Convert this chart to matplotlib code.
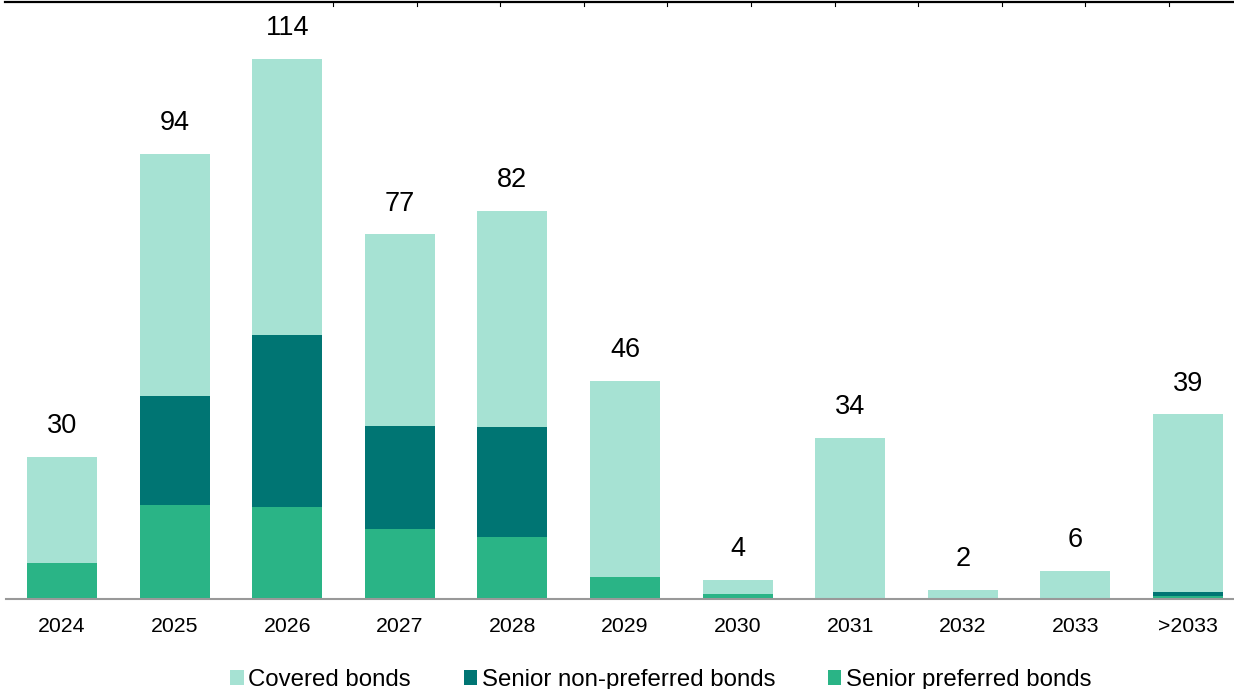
import matplotlib
matplotlib.use("Agg")
import matplotlib.pyplot as plt
from matplotlib.lines import Line2D
import numpy as np

plt.rcParams['font.family'] = ['Liberation Sans', 'DejaVu Sans']

categories = ["2024", "2025", "2026", "2027", "2028", "2029", "2030", "2031", "2032", "2033", ">2033"]
senior_preferred = [7.6, 19.8, 19.4, 14.8, 13.1, 4.6, 1.1, 0.0, 0.0, 0.0, 0.6]
senior_non_preferred = [0.0, 23.0, 36.3, 21.7, 23.2, 0.0, 0.0, 0.0, 0.0, 0.0, 0.8]
covered = [22.4, 51.2, 58.3, 40.5, 45.7, 41.4, 2.9, 34.0, 2.0, 6.0, 37.6]
totals = [30, 94, 114, 77, 82, 46, 4, 34, 2, 6, 39]

c_cov = "#A6E2D3"
c_snp = "#007573"
c_sp = "#2AB486"

W, H = 1234, 689
fig = plt.figure(figsize=(W / 100, H / 100), dpi=100)
left_px, right_px = 5.7, 1244.3
base_px = 599
ax = fig.add_axes([left_px / W, (H - base_px) / H, (right_px - left_px) / W, base_px / H])

x = np.arange(len(categories))
sp = np.array(senior_preferred)
snp = np.array(senior_non_preferred)
cov = np.array(covered)
bw = 0.622
ax.bar(x, cov, bw, bottom=sp + snp, color=c_cov, label="Covered bonds")
ax.bar(x, snp, bw, bottom=sp, color=c_snp, label="Senior non-preferred bonds")
ax.bar(x, sp, bw, color=c_sp, label="Senior preferred bonds")

for xi, tot, top in zip(x, totals, sp + snp + cov):
    ax.annotate(str(tot), (xi, top), xytext=(0, 17), textcoords="offset points",
                ha="center", va="baseline", fontsize=19.5, color="black")

ax.set_xlim(-0.5, len(categories) - 0.5)
ax.set_ylim(0, base_px / 4.737)
ax.set_xticks(x)
ax.set_xticklabels(categories, fontsize=15.3)
ax.tick_params(axis="x", length=0, pad=13)
ax.set_yticks([])
for s in ["top", "left", "right"]:
    ax.spines[s].set_visible(False)
ax.spines["bottom"].set_color("#999999")
ax.spines["bottom"].set_linewidth(1.5)

# top border line with ticks
tr = fig.transFigure
fig.add_artist(Line2D([5 / W, 1.0], [1 - 1.5 / H, 1 - 1.5 / H], transform=tr, color="black", lw=1.6))
for tx in np.arange(333, 1234, 83.6):
    fig.add_artist(Line2D([tx / W, tx / W], [1 - 1.5 / H, 1 - 6 / H], transform=tr, color="black", lw=0.8))

leg = fig.legend(loc="center", bbox_to_anchor=(661 / W, 1 - 680 / H), ncol=3, frameon=False,
                 fontsize=17.3, handlelength=0.55, handleheight=0.55, handletextpad=0.2,
                 columnspacing=2.2, borderpad=0, borderaxespad=0)

fig.savefig("out.png", dpi=100)
